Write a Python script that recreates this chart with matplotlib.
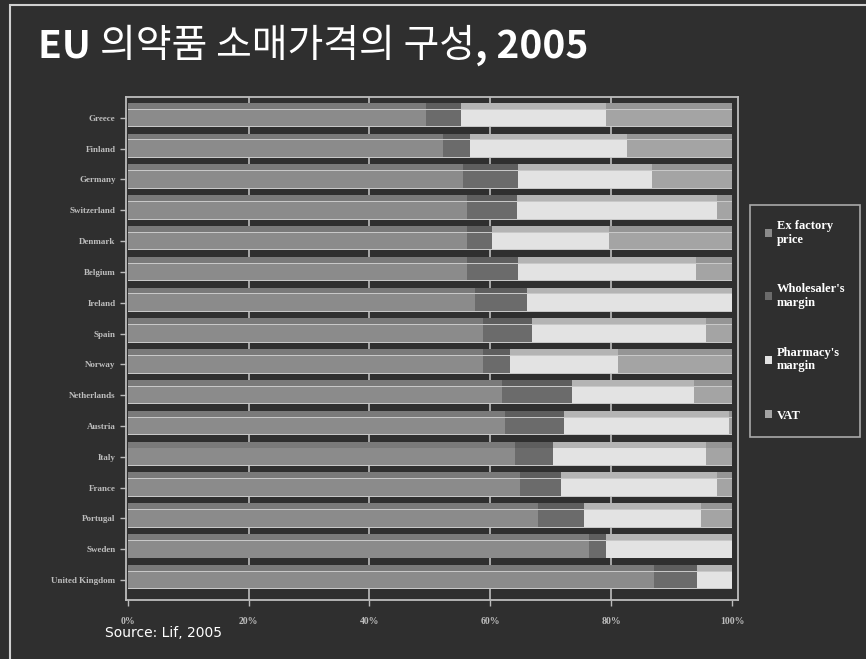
import numpy as np
import matplotlib.pyplot as plt
from matplotlib.patches import Rectangle

countries = ['Greece', 'Finland', 'Germany', 'Switzerland', 'Denmark', 'Belgium',
             'Ireland', 'Spain', 'Norway', 'Netherlands', 'Austria', 'Italy',
             'France', 'Portugal', 'Sweden', 'United Kingdom']
ex_factory = [49.4, 52.2, 55.5, 56.2, 56.2, 56.2, 57.5, 58.8, 58.8, 61.9, 62.4, 64.1, 64.9, 67.9, 76.4, 87.1]
wholesaler = [5.8, 4.5, 9.1, 8.2, 4.1, 8.4, 8.6, 8.1, 4.5, 11.7, 9.8, 6.2, 6.8, 7.6, 2.8, 7.1]
pharmacy = [24.0, 26.0, 22.1, 33.1, 19.3, 29.5, 33.9, 28.8, 17.8, 20.1, 27.3, 25.4, 25.8, 19.4, 20.8, 5.8]
vat = [20.8, 17.3, 13.3, 2.5, 20.4, 5.9, 0.0, 4.3, 18.9, 6.3, 0.5, 4.3, 2.5, 5.1, 0.0, 0.0]
series_names = ["Ex factory\nprice", "Wholesaler's\nmargin", "Pharmacy's\nmargin", "VAT"]
xticks = [0, 20, 40, 60, 80, 100]
xticklabels = ['0%', '20%', '40%', '60%', '80%', '100%']

bg = '#2f2f2f'
front = ['#8b8b8b', '#6b6b6b', '#e3e3e3', '#a4a4a4']
top = ['#7a7a7a', '#5e5e5e', '#b4b4b4', '#959595']

fig = plt.figure(figsize=(8.66, 6.59), dpi=100, facecolor=bg)
ax = fig.add_axes([0.1455, 0.0895, 0.7067, 0.7635], facecolor=bg)

n = len(countries)
y = np.arange(n)[::-1]
series = [ex_factory, wholesaler, pharmacy, vat]
left = np.zeros(n)
for i, s in enumerate(series):
    s = np.array(s)
    ax.barh(y + 0.39, s, left=left, height=0.2, color=top[i], edgecolor='none', zorder=3)
    ax.barh(y, s, left=left, height=0.56, color=front[i], edgecolor='none', zorder=4,
            label=series_names[i])
    left = left + s
# light rims on the bars
ax.barh(y + 0.285, left, height=0.03, color='#c8c8c8', edgecolor='none', zorder=5)
ax.barh(y - 0.285, left, height=0.03, color='#c8c8c8', edgecolor='none', zorder=5)

for xv in xticks[1:-1]:
    ax.axvline(xv, color='#bdbdbd', lw=1.2, zorder=1)
ax.set_xlim(-0.3, 101)
ax.set_ylim(-0.65, n - 1 + 0.68)
ax.set_xticks(xticks)
ax.set_xticklabels(xticklabels, color='white', fontsize=7, family='Liberation Serif',
                   fontweight='bold')
ax.set_yticks(y)
ax.set_yticklabels(countries, color='white', fontsize=6.5, family='Liberation Serif',
                   fontweight='bold')
ax.tick_params(axis='both', colors='#bdbdbd', length=4, width=1)
ax.tick_params(axis='x', pad=8)
for sp in ax.spines.values():
    sp.set_color('#bdbdbd')
    sp.set_linewidth(1.3)

leg = fig.legend(loc='upper left', bbox_to_anchor=(0.866, 0.689), frameon=True,
                 facecolor=bg, edgecolor='#c8c8c8', labelcolor='white',
                 prop={'family': 'Liberation Serif', 'weight': 'bold', 'size': 9},
                 handlelength=0.6, handleheight=0.6, handletextpad=0.35,
                 labelspacing=3.0, borderpad=1.2, borderaxespad=0, fancybox=False)
leg.get_frame().set_linewidth(1.2)

# title in three pieces: bold latin, regular Korean, bold year
r = fig.canvas.get_renderer()
fam = ['Noto Sans CJK KR', 'DejaVu Sans']
t1 = fig.text(0.044, 0.93, 'EU ', color='white', fontsize=28, fontweight='bold',
              family=fam, va='center')
bb = t1.get_window_extent(r).transformed(fig.transFigure.inverted())
t2 = fig.text(bb.x1, 0.93, '의약품 소매가격의 구성', color='white', fontsize=28,
              family=fam, va='center')
bb = t2.get_window_extent(r).transformed(fig.transFigure.inverted())
fig.text(bb.x1, 0.93, ', 2005', color='white', fontsize=28, fontweight='bold',
         family=fam, va='center')

fig.text(0.121, 0.033, 'Source: Lif, 2005', color='white', fontsize=10,
         family='DejaVu Sans')

fig.patches.append(Rectangle((0.011, -0.01), 1.2, 1.003, transform=fig.transFigure,
                             fill=False, edgecolor='#d0d0d0', lw=1.5))

fig.savefig('out.png', dpi=100, facecolor=bg)
